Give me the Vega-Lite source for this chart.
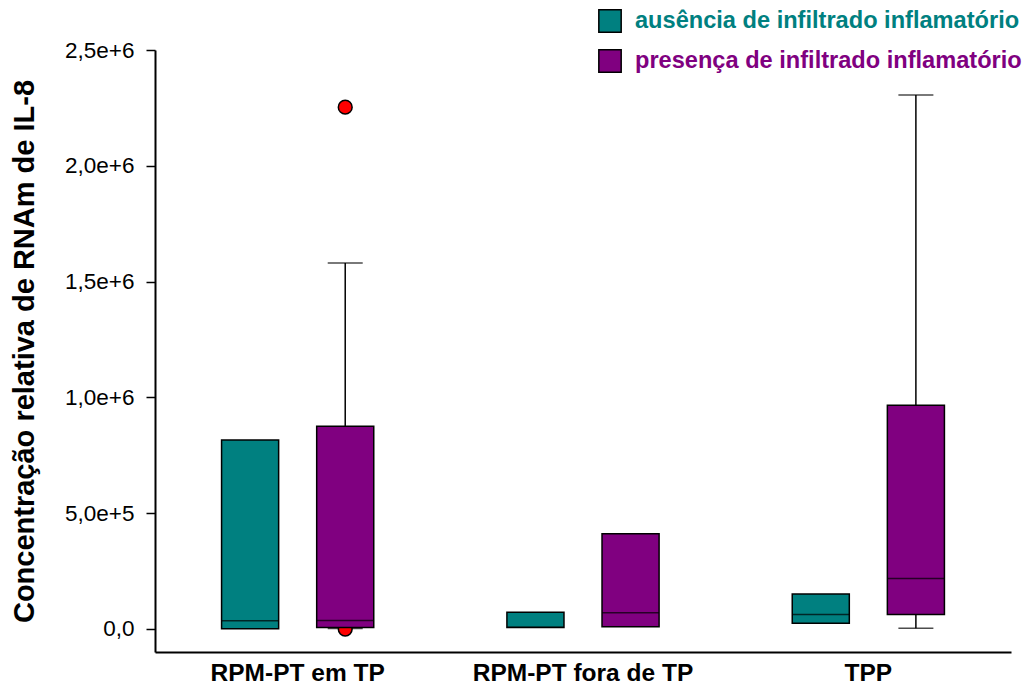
{
  "$schema": "https://vega.github.io/schema/vega-lite/v6.json",
  "width": 856,
  "height": 602,
  "autosize": "none",
  "padding": {"left": 155, "top": 50, "right": 19, "bottom": 39},
  "background": "white",
  "config": {
    "view": {"stroke": null},
    "font": "Liberation Sans",
    "axis": {"grid": false, "domainColor": "black", "domainWidth": 2, "tickColor": "black", "labelColor": "black", "titleColor": "black", "labelFont": "Liberation Sans", "titleFont": "Liberation Sans"}
  },
  "datasets": {
    "boxes": [
      {"grupo": "RPM-PT em TP", "serie": "ausência de infiltrado inflamatório", "q1": 0, "mediana": 34500, "q3": 816000},
      {"grupo": "RPM-PT em TP", "serie": "presença de infiltrado inflamatório", "q1": 5600, "mediana": 36000, "q3": 875000},
      {"grupo": "RPM-PT fora de TP", "serie": "ausência de infiltrado inflamatório", "q1": 5600, "mediana": 7000, "q3": 72000},
      {"grupo": "RPM-PT fora de TP", "serie": "presença de infiltrado inflamatório", "q1": 8600, "mediana": 69000, "q3": 411000},
      {"grupo": "TPP", "serie": "ausência de infiltrado inflamatório", "q1": 24600, "mediana": 61700, "q3": 150000},
      {"grupo": "TPP", "serie": "presença de infiltrado inflamatório", "q1": 61700, "mediana": 217000, "q3": 966000}
    ],
    "whiskers": [
      {"grupo": "RPM-PT em TP", "serie": "presença de infiltrado inflamatório", "edge": 875000, "end": 1580000},
      {"grupo": "RPM-PT em TP", "serie": "presença de infiltrado inflamatório", "edge": 5600, "end": 1000},
      {"grupo": "TPP", "serie": "presença de infiltrado inflamatório", "edge": 966000, "end": 2306000},
      {"grupo": "TPP", "serie": "presença de infiltrado inflamatório", "edge": 61700, "end": 3000}
    ],
    "outliers": [
      {"grupo": "RPM-PT em TP", "serie": "presença de infiltrado inflamatório", "valor": 2253000},
      {"grupo": "RPM-PT em TP", "serie": "presença de infiltrado inflamatório", "valor": -1000}
    ]
  },
  "encoding": {
    "x": {
      "field": "grupo",
      "type": "nominal",
      "sort": ["RPM-PT em TP", "RPM-PT fora de TP", "TPP"],
      "scale": {"paddingInner": 0, "paddingOuter": 0},
      "axis": {"title": null, "ticks": false, "labelAngle": 0, "labelFontSize": 24.5, "labelFontWeight": "bold", "labelPadding": 9, "labelLimit": 0}
    },
    "xOffset": {
      "field": "serie",
      "type": "nominal",
      "scale": {"domain": ["ausência de infiltrado inflamatório", "presença de infiltrado inflamatório"], "paddingInner": 0.4, "paddingOuter": 0.7}
    }
  },
  "layer": [
    {
      "data": {"name": "whiskers"},
      "mark": {"type": "rule", "color": "black", "strokeWidth": 1.5},
      "encoding": {
        "y": {
          "field": "edge",
          "type": "quantitative",
          "scale": {"domain": [-100000, 2500000], "nice": false, "zero": false},
          "axis": {
            "title": "Concentração relativa de RNAm de IL-8",
            "titleFontSize": 29,
            "titleFontWeight": "bold",
            "titleAngle": -90,
            "titleAlign": "center",
            "titleBaseline": "alphabetic",
            "titleX": -122,
            "titleY": 301,
            "values": [0, 500000, 1000000, 1500000, 2000000, 2500000],
            "labelExpr": "datum.value == 0 ? '0,0' : replace(format(datum.value, '.1e'), '.', ',')",
            "labelFontSize": 22.5,
            "labelPadding": 12,
            "tickSize": 9,
            "tickWidth": 1.5
          }
        },
        "y2": {"field": "end"}
      }
    },
    {
      "data": {"name": "whiskers"},
      "mark": {"type": "tick", "color": "black", "size": 35, "thickness": 1.5},
      "encoding": {"y": {"field": "end", "type": "quantitative"}}
    },
    {
      "data": {"name": "outliers"},
      "mark": {"type": "point", "filled": true, "fill": "#ff0000", "stroke": "black", "strokeWidth": 1.5, "size": 190, "opacity": 1},
      "encoding": {"y": {"field": "valor", "type": "quantitative"}}
    },
    {
      "data": {"name": "boxes"},
      "mark": {"type": "bar", "stroke": "black", "strokeWidth": 1.5},
      "encoding": {
        "y": {"field": "q1", "type": "quantitative"},
        "y2": {"field": "q3"},
        "color": {
          "field": "serie",
          "type": "nominal",
          "scale": {"domain": ["ausência de infiltrado inflamatório", "presença de infiltrado inflamatório"], "range": ["#008080", "#800080"]},
          "legend": {
            "title": null,
            "orient": "none",
            "legendX": 443,
            "legendY": -41,
            "symbolType": "square",
            "symbolSize": 500,
            "symbolStrokeColor": "black",
            "symbolStrokeWidth": 1.5,
            "symbolOpacity": 1,
            "labelFont": "Liberation Sans",
            "labelFontSize": 23.6,
            "labelFontWeight": "bold",
            "labelOffset": 13,
            "labelLimit": 600,
            "rowPadding": 10,
            "labelColor": {"expr": "datum.index === 0 ? '#008080' : '#800080'"}
          }
        }
      }
    },
    {
      "data": {"name": "boxes"},
      "mark": {"type": "tick", "color": "black", "size": 57, "thickness": 1.5},
      "encoding": {"y": {"field": "mediana", "type": "quantitative"}}
    }
  ]
}
